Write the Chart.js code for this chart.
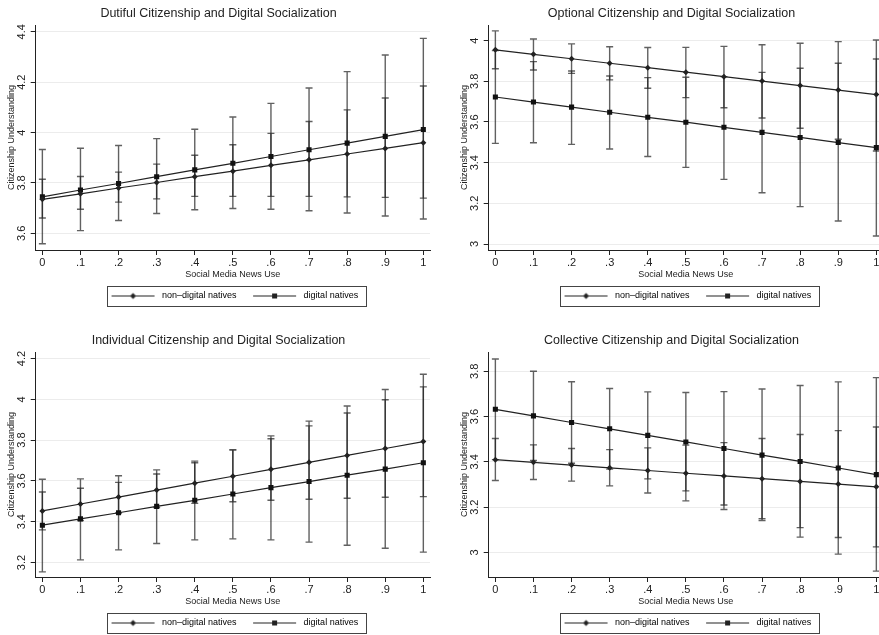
<!DOCTYPE html>
<html>
<head>
<meta charset="utf-8">
<script src="https://cdn.jsdelivr.net/npm/chart.js@4.4.0/dist/chart.umd.min.js"></script>
<style>
    html, body { margin: 0; padding: 0; background: #fff; width: 879px; height: 635px; overflow: hidden; position: relative; }
    .panel { position: absolute; width: 440px; height: 327px; }
</style>
</head>
<body>
<div class="panel" style="left:0;top:0"><canvas id="dutiful_chart"></canvas></div>
<div class="panel" style="left:453px;top:0"><canvas id="optional_chart"></canvas></div>
<div class="panel" style="left:0;top:327px"><canvas id="individual_chart"></canvas></div>
<div class="panel" style="left:453px;top:327px"><canvas id="collective_chart"></canvas></div>
<script>
// x values (social media news use) and their tick labels
const newsUse = [0, 0.1, 0.2, 0.3, 0.4, 0.5, 0.6, 0.7, 0.8, 0.9, 1];
const newsUseLabels = ['0', '.1', '.2', '.3', '.4', '.5', '.6', '.7', '.8', '.9', '1'];
const seriesNames = ['non\u2013digital natives', 'digital natives'];

// Dutiful
const dutifulNonMean = [3.735, 3.757, 3.780, 3.802, 3.825, 3.847, 3.870, 3.892, 3.915, 3.937, 3.960];
const dutifulNonLo = [3.661, 3.696, 3.724, 3.737, 3.747, 3.747, 3.747, 3.747, 3.745, 3.743, 3.740];
const dutifulNonHi = [3.815, 3.826, 3.843, 3.875, 3.910, 3.952, 3.997, 4.044, 4.090, 4.137, 4.185];
const dutifulDigMean = [3.745, 3.772, 3.798, 3.825, 3.852, 3.878, 3.905, 3.932, 3.958, 3.985, 4.012];
const dutifulDigLo = [3.559, 3.611, 3.651, 3.679, 3.694, 3.699, 3.696, 3.690, 3.681, 3.669, 3.657];
const dutifulDigHi = [3.933, 3.938, 3.949, 3.976, 4.013, 4.062, 4.116, 4.177, 4.242, 4.308, 4.374];
const dutifulTicks = [3.6, 3.8, 4, 4.2, 4.4];

// Optional
const optionalNonMean = [3.955, 3.933, 3.911, 3.889, 3.867, 3.845, 3.823, 3.801, 3.779, 3.757, 3.735];
const optionalNonLo = [3.862, 3.856, 3.839, 3.807, 3.766, 3.720, 3.670, 3.620, 3.569, 3.515, 3.457];
const optionalNonHi = [4.048, 4.008, 3.984, 3.970, 3.966, 3.967, 3.972, 3.980, 3.987, 3.995, 4.003];
const optionalDigMean = [3.723, 3.698, 3.673, 3.648, 3.623, 3.599, 3.574, 3.549, 3.524, 3.499, 3.474];
const optionalDigLo = [3.495, 3.498, 3.490, 3.467, 3.430, 3.377, 3.318, 3.252, 3.184, 3.113, 3.039];
const optionalDigHi = [3.951, 3.897, 3.851, 3.826, 3.818, 3.820, 3.823, 3.844, 3.864, 3.889, 3.910];
const optionalTicks = [3, 3.2, 3.4, 3.6, 3.8, 4];

// Individual
const individualNonMean = [3.453, 3.487, 3.521, 3.555, 3.589, 3.623, 3.657, 3.691, 3.725, 3.759, 3.793];
const individualNonLo = [3.360, 3.406, 3.443, 3.470, 3.490, 3.498, 3.505, 3.510, 3.515, 3.520, 3.523];
const individualNonHi = [3.546, 3.564, 3.593, 3.634, 3.689, 3.752, 3.807, 3.870, 3.933, 3.998, 4.061];
const individualDigMean = [3.383, 3.414, 3.444, 3.475, 3.505, 3.536, 3.567, 3.597, 3.628, 3.658, 3.689];
const individualDigLo = [3.154, 3.213, 3.262, 3.293, 3.311, 3.316, 3.311, 3.300, 3.285, 3.270, 3.251];
const individualDigHi = [3.608, 3.610, 3.625, 3.654, 3.697, 3.752, 3.821, 3.893, 3.967, 4.048, 4.123];
const individualTicks = [3.2, 3.4, 3.6, 3.8, 4, 4.2];

// Collective
const collectiveNonMean = [3.410, 3.398, 3.386, 3.374, 3.362, 3.350, 3.338, 3.326, 3.314, 3.302, 3.290];
const collectiveNonLo = [3.318, 3.322, 3.315, 3.294, 3.263, 3.228, 3.190, 3.149, 3.110, 3.066, 3.025];
const collectiveNonHi = [3.503, 3.475, 3.459, 3.454, 3.462, 3.474, 3.485, 3.503, 3.521, 3.538, 3.554];
const collectiveDigMean = [3.632, 3.603, 3.574, 3.546, 3.517, 3.488, 3.459, 3.430, 3.402, 3.373, 3.344];
const collectiveDigLo = [3.410, 3.406, 3.394, 3.368, 3.325, 3.272, 3.210, 3.141, 3.068, 2.993, 2.918];
const collectiveDigHi = [3.854, 3.800, 3.754, 3.724, 3.709, 3.706, 3.710, 3.722, 3.737, 3.753, 3.772];
const collectiveTicks = [3, 3.2, 3.4, 3.6, 3.8];

const FONT = "'Liberation Sans', Arial, Helvetica, sans-serif";
const INK = '#222';

// small line + marker picture used as the legend symbol (Stata style)
function legendSymbol(marker) {
    const c = document.createElement('canvas');
    c.width = 50;
    c.height = 9;
    const g = c.getContext('2d');
    g.strokeStyle = INK;
    g.lineWidth = 1;
    g.beginPath();
    g.moveTo(4, 4.5);
    g.lineTo(47, 4.5);
    g.stroke();
    g.fillStyle = INK;
    if (marker === 'diamond') {
        g.beginPath();
        g.moveTo(25.5, 1.5);
        g.lineTo(28.5, 4.5);
        g.lineTo(25.5, 7.5);
        g.lineTo(22.5, 4.5);
        g.closePath();
        g.fill();
    } else {
        g.fillRect(23, 2, 5, 5);
    }
    return c;
}
const legendSymbols = [legendSymbol('diamond'), legendSymbol('square')];

// vertical CI bars with caps, drawn under the lines
const errorBars = {
    id: 'errorBars',
    beforeDatasetsDraw(chart) {
        const ctx = chart.ctx;
        const xs = chart.scales.x;
        const ys = chart.scales.y;
        ctx.save();
        ctx.strokeStyle = 'rgba(30,30,30,0.7)';
        ctx.lineWidth = 1.4;
        chart.data.datasets.forEach(ds => {
            ds.data.forEach((pt, i) => {
                const px = xs.getPixelForValue(pt.x);
                const lo = ys.getPixelForValue(ds.lo[i]);
                const hi = ys.getPixelForValue(ds.hi[i]);
                ctx.beginPath();
                ctx.moveTo(px, lo);
                ctx.lineTo(px, hi);
                ctx.moveTo(px - 3.5, lo);
                ctx.lineTo(px + 3.5, lo);
                ctx.moveTo(px - 3.5, hi);
                ctx.lineTo(px + 3.5, hi);
                ctx.stroke();
            });
        });
        ctx.restore();
    }
};

// frame around the legend
const legendFrame = {
    id: 'legendFrame',
    afterDraw(chart) {
        const boxes = chart.legend.legendHitBoxes;
        if (!boxes || !boxes.length) {
            return;
        }
        const first = boxes[0];
        const last = boxes[boxes.length - 1];
        const left = Math.round(first.left - 1) + 0.5;
        const right = Math.round(last.left + last.width + 8) + 0.5;
        const cy = first.top + first.height / 2;
        const ctx = chart.ctx;
        ctx.save();
        ctx.strokeStyle = '#444';
        ctx.lineWidth = 1;
        ctx.strokeRect(left, Math.round(cy - 10) + 0.5, right - left, 20);
        ctx.restore();
    }
};

function toPoints(values) {
    return values.map((v, i) => ({x: newsUse[i], y: v}));
}

function makePanel(canvasId, title, nonMean, nonLo, nonHi, digMean, digLo, digHi, yTicks, yMin, yMax) {
    const ctx = document.getElementById(canvasId).getContext('2d');
    return new Chart(ctx, {
        type: 'line',
        data: {
            datasets: [{
                label: seriesNames[0],
                data: toPoints(nonMean),
                lo: nonLo,
                hi: nonHi,
                borderColor: INK,
                backgroundColor: INK,
                borderWidth: 1.2,
                pointStyle: 'rectRot',
                pointRadius: 3,
                pointBorderWidth: 0,
                tension: 0
            }, {
                label: seriesNames[1],
                data: toPoints(digMean),
                lo: digLo,
                hi: digHi,
                borderColor: INK,
                backgroundColor: '#111',
                borderWidth: 1.2,
                pointStyle: 'rect',
                pointRadius: 3.6,
                pointBorderWidth: 0,
                tension: 0
            }]
        },
        options: {
            responsive: true,
            maintainAspectRatio: false,
            animation: false,
            events: [],
            layout: {
                padding: {left: 7, right: 10, top: 0, bottom: 16.5}
            },
            scales: {
                x: {
                    type: 'linear',
                    min: -0.0175,
                    max: 1.0175,
                    afterBuildTicks: (axis) => {
                        axis.ticks = newsUse.map(v => ({value: v}));
                    },
                    afterFit: (axis) => {
                        axis.height = 29;
                    },
                    ticks: {
                        autoSkip: false,
                        maxRotation: 0,
                        padding: 1,
                        color: INK,
                        font: {family: FONT, size: 11},
                        callback: (value, index) => newsUseLabels[index]
                    },
                    grid: {
                        drawOnChartArea: false,
                        tickLength: 5,
                        tickColor: INK
                    },
                    border: {color: INK, width: 1},
                    title: {
                        display: true,
                        text: 'Social Media News Use',
                        color: INK,
                        padding: 0,
                        font: {family: FONT, size: 9, lineHeight: 1}
                    }
                },
                y: {
                    type: 'linear',
                    min: yMin,
                    max: yMax,
                    afterBuildTicks: (axis) => {
                        axis.ticks = yTicks.map(v => ({value: v}));
                    },
                    afterFit: (axis) => {
                        axis.width = 28.7;
                    },
                    ticks: {
                        minRotation: 90,
                        maxRotation: 90,
                        crossAlign: 'center',
                        padding: 1,
                        color: INK,
                        font: {family: FONT, size: 11},
                        callback: (value) => String(Math.round(value * 10) / 10)
                    },
                    grid: {
                        color: '#ececec',
                        tickLength: 5,
                        tickColor: INK
                    },
                    border: {color: INK, width: 1},
                    title: {
                        display: true,
                        text: 'Citizenship Understanding',
                        color: INK,
                        padding: 0,
                        font: {family: FONT, size: 9, lineHeight: 1}
                    }
                }
            },
            plugins: {
                title: {
                    display: true,
                    text: title,
                    color: INK,
                    padding: {top: 6.5, bottom: 3.5},
                    font: {family: FONT, size: 12.5, weight: 'normal', lineHeight: 1.2}
                },
                legend: {
                    display: true,
                    position: 'bottom',
                    fullSize: false,
                    labels: {
                        usePointStyle: true,
                        pointStyleWidth: 50,
                        boxHeight: 9,
                        padding: 12.5,
                        color: INK,
                        font: {family: FONT, size: 9},
                        generateLabels: (chart) => chart.data.datasets.map((ds, i) => ({
                            text: ds.label,
                            pointStyle: legendSymbols[i],
                            fillStyle: INK,
                            strokeStyle: INK,
                            lineWidth: 0,
                            hidden: false,
                            datasetIndex: i
                        }))
                    }
                },
                tooltip: {enabled: false}
            }
        },
        plugins: [errorBars, legendFrame]
    });
}

makePanel('dutiful_chart', 'Dutiful Citizenship and Digital Socialization',
    dutifulNonMean, dutifulNonLo, dutifulNonHi, dutifulDigMean, dutifulDigLo, dutifulDigHi,
    dutifulTicks, 3.534, 4.427);
makePanel('optional_chart', 'Optional Citizenship and Digital Socialization',
    optionalNonMean, optionalNonLo, optionalNonHi, optionalDigMean, optionalDigLo, optionalDigHi,
    optionalTicks, 2.9705, 4.077);
makePanel('individual_chart', 'Individual Citizenship and Digital Socialization',
    individualNonMean, individualNonLo, individualNonHi, individualDigMean, individualDigLo, individualDigHi,
    individualTicks, 3.129, 4.232);
makePanel('collective_chart', 'Collective Citizenship and Digital Socialization',
    collectiveNonMean, collectiveNonLo, collectiveNonHi, collectiveDigMean, collectiveDigLo, collectiveDigHi,
    collectiveTicks, 2.892, 3.885);
</script>
</body>
</html>
